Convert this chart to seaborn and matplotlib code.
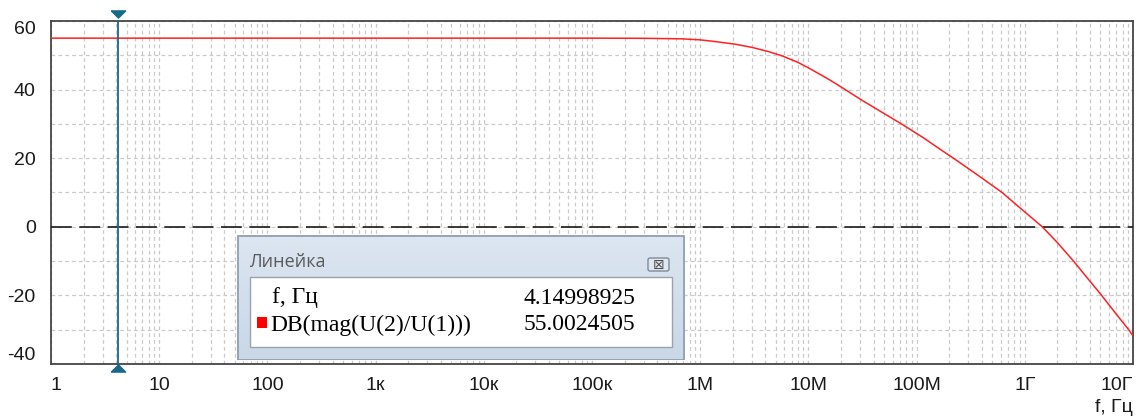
import numpy as np
import pandas as pd
import matplotlib
matplotlib.use("Agg")
import matplotlib.pyplot as plt
import matplotlib.patches as mpatches
import matplotlib.ticker as mticker
import seaborn as sns

# Frequency response
freq_hz = [1, 1e5, 3.16e5, 6.8e5, 1e6, 1.38e6, 2.14e6, 3.02e6, 4.37e6, 5.75e6, 7.94e6,
           1.02e7, 1.58e7, 2.14e7, 3.16e7, 4.9e7, 7.24e7, 1.15e8, 1.58e8, 2.19e8,
           3.55e8, 6.17e8, 9.12e8, 1.45e9, 2.0e9, 2.82e9, 3.8e9, 5.13e9, 6.9e9,
           9.12e9, 1e10]
gain_db = [55.0, 55.0, 54.95, 54.8, 54.5, 54.0, 53.2, 52.3, 51.0, 49.8, 48.0,
           46.2, 42.8, 40.2, 36.8, 33.2, 30.0, 26.0, 23.0, 20.0,
           15.4, 10.0, 5.4, 0.0, -4.6, -10.0, -15.0, -20.0, -25.2,
           -30.0, -31.8]

x_ticks = [1, 10, 100, 1e3, 1e4, 1e5, 1e6, 1e7, 1e8, 1e9, 1e10]
x_labels = ['1', '10', '100', '1к', '10к', '100к', '1M', '10M', '100M', '1Г', '10Г']
y_ticks = [-40, -20, 0, 20, 40, 60]

cursor_f = 4.14998925
cursor_db = 55.0024505

W, H = 1137, 416

sns.set_style("white")
plt.rcParams['font.family'] = ['Liberation Sans', 'DejaVu Sans']
plt.rcParams['axes.unicode_minus'] = False

fig = plt.figure(figsize=(W / 100, H / 100), dpi=100)
ax = fig.add_axes([51 / W, 1 - 364 / H, (1133 - 51) / W, (364 - 21) / H])

df = pd.DataFrame({'f': freq_hz, 'db': gain_db})
sns.lineplot(data=df, x='f', y='db', ax=ax, color='#ff2020', linewidth=1.1, zorder=4)

ax.set_xscale('log')
ax.set_xlim(1, 1e10)
ax.set_ylim(-40, 60)

ax.set_xticks(x_ticks)
ax.set_xticklabels(x_labels)
ax.xaxis.set_minor_locator(mticker.LogLocator(base=10, subs=np.arange(2, 10), numticks=100))
ax.xaxis.set_minor_formatter(mticker.NullFormatter())
ax.set_yticks(y_ticks)
ax.yaxis.set_minor_locator(mticker.MultipleLocator(10))
ax.tick_params(axis='both', which='both', length=0, labelsize=14, colors='#1a1a1a')
ax.tick_params(axis='y', pad=11)
ax.tick_params(axis='x', pad=9)

# edge labels pushed inside like the original
xl = ax.get_xticklabels()
xl[0].set_ha('left')
xl[-1].set_ha('right')
yl = ax.get_yticklabels()
yl[0].set_va('bottom')
yl[-1].set_va('top')

ax.grid(True, which='both', color='#cacaca', linestyle=(0, (3, 2.5)), linewidth=0.9)
ax.set_axisbelow(True)
ax.axhline(0, color='#1a1a1a', linestyle=(0, (12.5, 4.5)), linewidth=1.2, zorder=3)

for s in ax.spines.values():
    s.set_color('#454545')
    s.set_linewidth(1.3)

ax.set_xlabel('')
ax.set_ylabel('')
fig.text(1133 / W, 1 - 407 / H, 'f, Гц', ha='right', va='center', fontsize=14, color='#1a1a1a')

# cursor
cur_col = '#17698a'
ax.axvline(cursor_f, color=cur_col, linewidth=1.3, zorder=5)
trans = ax.get_xaxis_transform()
tri_down = [(-1, 0.5), (1, 0.5), (0, -0.5), (-1, 0.5)]
tri_up = [(-1, -0.5), (1, -0.5), (0, 0.5), (-1, -0.5)]
ax.plot([cursor_f], [1.019], marker=tri_down, markersize=10.3, color=cur_col, transform=trans, clip_on=False)
ax.plot([cursor_f], [-0.013], marker=tri_up, markersize=10.3, color=cur_col, transform=trans, clip_on=False)

# ruler window
rw, rh = 685 - 237, 360 - 235
rax = fig.add_axes([237 / W, 1 - 360 / H, rw / W, rh / H])
rax.set_xlim(0, rw)
rax.set_ylim(rh, 0)
rax.axis('off')
grad = np.linspace(0, 1, 100).reshape(-1, 1)
cmap = matplotlib.colors.LinearSegmentedColormap.from_list('win', ['#dce6f1', '#c9d7e7'])
rax.imshow(grad, cmap=cmap, extent=[0, rw, rh, 0], aspect='auto', zorder=0)
rax.add_patch(mpatches.Rectangle((0.5, 0.5), rw - 1, rh - 1, fill=False, edgecolor='#8c9aab', linewidth=1.2, zorder=1))
rax.add_patch(mpatches.Rectangle((250 - 237, 277 - 235), 672 - 250, 347 - 277, facecolor='white',
                                 edgecolor='#9aa3ad', linewidth=1.0, zorder=2))
rax.add_patch(mpatches.FancyBboxPatch((648 - 237, 258 - 235), 21, 13, boxstyle='round,pad=0,rounding_size=2',
                                      facecolor='#dfe7f0', edgecolor='#7d8a99', linewidth=1.0, zorder=2))
rax.text(658.5 - 237, 264.5 - 235, '⊠', ha='center', va='center', fontsize=10, color='#505050',
         family=['DejaVu Sans'], zorder=3)
rax.text(249 - 237, 262 - 235, 'Линейка', ha='left', va='center', fontsize=13, color='#5a5a5a',
         family=['Open Sans', 'DejaVu Sans'], zorder=3)
rax.add_patch(mpatches.Rectangle((257 - 237, 317 - 235), 10, 11, facecolor='#ff0000', edgecolor='none', zorder=3))
serif = ['Liberation Serif', 'DejaVu Serif']
rax.text(272 - 237, 298 - 235, 'f, Гц', ha='left', va='center', fontsize=17, family=serif, color='black', zorder=3)
rax.text(635 - 237, 298 - 235, f'{cursor_f:.8f}', ha='right', va='center', fontsize=17, family=serif,
         color='black', zorder=3)
rax.text(270 - 237, 325 - 235, 'DB(mag(U(2)/U(1)))', ha='left', va='center', fontsize=17, family=serif,
         color='black', zorder=3)
rax.text(635 - 237, 325 - 235, f'{cursor_db:.7f}', ha='right', va='center', fontsize=17, family=serif,
         color='black', zorder=3)

fig.savefig('out.png', dpi=100)
